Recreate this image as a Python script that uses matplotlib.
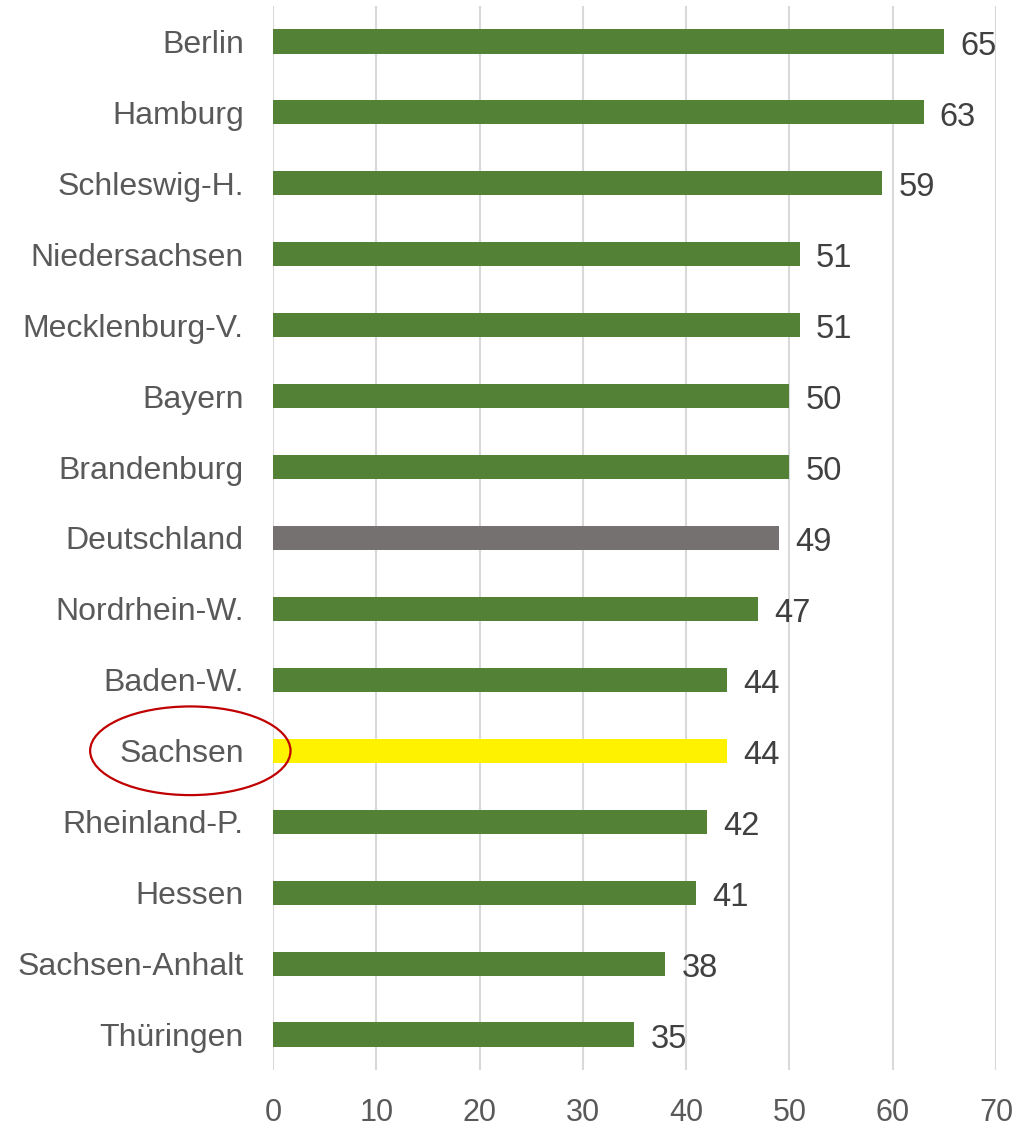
import matplotlib.pyplot as plt
from matplotlib.patches import Ellipse

laender = ['Berlin', 'Hamburg', 'Schleswig-H.', 'Niedersachsen', 'Mecklenburg-V.',
           'Bayern', 'Brandenburg', 'Deutschland', 'Nordrhein-W.', 'Baden-W.',
           'Sachsen', 'Rheinland-P.', 'Hessen', 'Sachsen-Anhalt', 'Thüringen']
werte = [65, 63, 59, 51, 51, 50, 50, 49, 47, 44, 44, 42, 41, 38, 35]
x_ticks = [0, 10, 20, 30, 40, 50, 60, 70]

GREEN = '#538135'
farben = []
for name in laender:
    if name == 'Deutschland':
        farben.append('#767171')
    elif name == 'Sachsen':
        farben.append('#FFF200')
    else:
        farben.append(GREEN)

plt.rcParams['font.family'] = ['Liberation Sans', 'DejaVu Sans']

fig = plt.figure(figsize=(10.25, 11.32), dpi=100)
ax = fig.add_axes([0.2663, 0.0548, 0.7054, 0.9399])

pos = list(range(len(laender)))
ax.barh(pos, werte, height=0.34, color=farben, zorder=2)

for y, v in zip(pos, werte):
    ax.annotate(str(v), (v, y), xytext=(11.5, -0.8), textcoords='offset points',
                ha='left', va='center_baseline', fontsize=23.5, color='#404040')

ax.set_xlim(0, 70)
ax.set_ylim(len(laender) - 0.5, -0.5)
ax.set_xticks(x_ticks)
ax.set_xticklabels([str(t) for t in x_ticks],
                   family=['Liberation Sans Narrow', 'Liberation Sans'])
ax.set_yticks(pos)
ax.set_yticklabels(laender)
ax.tick_params(axis='y', length=0, pad=21, labelsize=23, labelcolor='#595959')
ax.tick_params(axis='x', length=0, pad=20, labelsize=22, labelcolor='#595959')

ax.grid(axis='x', color='#D9D9D9', linewidth=1.5, zorder=0)
for s in ax.spines.values():
    s.set_visible(False)

# Sachsen hervorheben
idx = laender.index('Sachsen')
ax.add_patch(Ellipse((-8.0, idx), 19.4, 1.25, fill=False, edgecolor='#C00000',
                     linewidth=1.6, clip_on=False, zorder=5))

fig.savefig('out.png', dpi=100)
